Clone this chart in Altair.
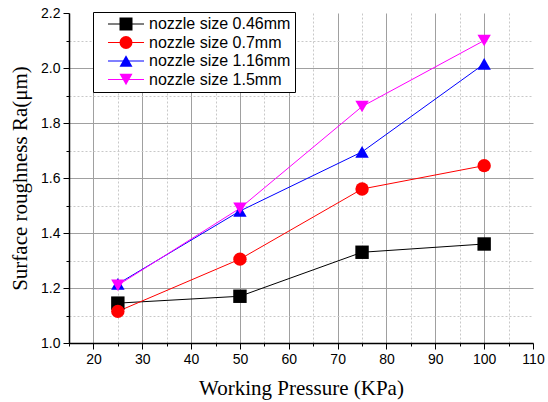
import altair as alt
import pandas as pd

pressure = [25, 50, 75, 100]
series_names = ["nozzle size 0.46mm", "nozzle size 0.7mm", "nozzle size 1.16mm", "nozzle size 1.5mm"]
ra_046 = [1.145, 1.17, 1.33, 1.36]
ra_07 = [1.115, 1.305, 1.56, 1.645]
ra_116 = [1.215, 1.48, 1.695, 2.015]
ra_15 = [1.21, 1.49, 1.86, 2.10]
colors = ["#000000", "#ff0000", "#0000ff", "#ff00ff"]
shapes = ["square", "circle", "triangle-up", "triangle-down"]
x_ticks = [15, 20, 25, 30, 35, 40, 45, 50, 55, 60, 65, 70, 75, 80, 85, 90, 95, 100, 105, 110]
y_ticks = [1.0, 1.1, 1.2, 1.3, 1.4, 1.5, 1.6, 1.7, 1.8, 1.9, 2.0, 2.1, 2.2]

rows = []
for name, vals in zip(series_names, [ra_046, ra_07, ra_116, ra_15]):
    for p, v in zip(pressure, vals):
        rows.append({"pressure": p, "ra": v, "series": name, "series_m": name})
df = pd.DataFrame(rows)

x_major = "datum.value % 10 === 0"
y_major = "round(datum.value * 10) % 2 === 0"

def axis(values, title, major, label_expr, hide_grid, title_pad):
    return alt.Axis(
        values=values, title=title,
        titleFont="Liberation Serif", titleFontSize=21, titleFontWeight="normal", titleColor="black",
        titlePadding=title_pad,
        labelFont="Liberation Sans", labelFontSize=14, labelColor="black",
        labelExpr=label_expr, labelOverlap=False, labelFlush=False, labelBound=False, labelPadding=3,
        tickColor="black", tickWidth=1,
        tickSize={"condition": {"test": major, "value": 6}, "value": 3},
        domainColor="black", domainWidth=1.5,
        grid=True,
        gridColor={"condition": {"test": major, "value": "#a0a0a0"}, "value": "#c8c8c8"},
        gridDash={"condition": {"test": major, "value": []}, "value": [2, 2]},
        gridWidth=1,
        gridOpacity={"condition": {"test": hide_grid, "value": 0}, "value": 1},
    )

x_axis = axis(x_ticks, "Working Pressure (KPa)", x_major,
              "datum.value % 10 === 0 ? datum.label : ''", "datum.value >= 110", 11)
y_axis = axis(y_ticks, "Surface roughness Ra(\u03bcm)", y_major,
              "round(datum.value * 10) % 2 === 0 ? format(datum.value, '.1f') : ''", "datum.value > 2.15", 10)

xs = alt.Scale(domain=[15, 110], nice=False, zero=False)
ys = alt.Scale(domain=[1.0, 2.2], nice=False, zero=False)

common_legend = dict(title=None, orient="none", legendX=24, legendY=-1, padding=4, rowPadding=2.5,
                     labelFontSize=16, labelFont="Liberation Sans", labelColor="black", labelLimit=400,
                     symbolSize=169, symbolOffset=21, labelOffset=15)

lines = alt.Chart(df).mark_line(strokeWidth=1).encode(
    x=alt.X("pressure:Q", scale=xs, axis=x_axis),
    y=alt.Y("ra:Q", scale=ys, axis=y_axis),
    stroke=alt.Stroke("series:N",
                      scale=alt.Scale(range=colors),
                      legend=alt.Legend(symbolType="M-2.77,0H2.77", symbolStrokeWidth=1,
                                        strokeColor="black", fillColor="white", zindex=0,
                                        **common_legend)),
)

pt_legend = alt.Legend(symbolStrokeWidth=0, labelOpacity=0, zindex=1, **common_legend)

points = alt.Chart(df).mark_point(filled=True, size=180, opacity=1).encode(
    x=alt.X("pressure:Q", scale=xs, axis=x_axis),
    y=alt.Y("ra:Q", scale=ys, axis=y_axis),
    fill=alt.Fill("series_m:N", scale=alt.Scale(range=colors), legend=pt_legend),
    shape=alt.Shape("series_m:N", scale=alt.Scale(range=shapes), legend=pt_legend),
)

chart = alt.layer(lines, points).properties(
    width=464, height=330,
    autosize=alt.AutoSizeParams(type="none"),
    padding={"left": 69, "top": 13, "right": 15, "bottom": 59},
    background="white",
).configure_view(stroke=None)

chart.save("out.html", embed_options={"renderer": "svg", "actions": False})
